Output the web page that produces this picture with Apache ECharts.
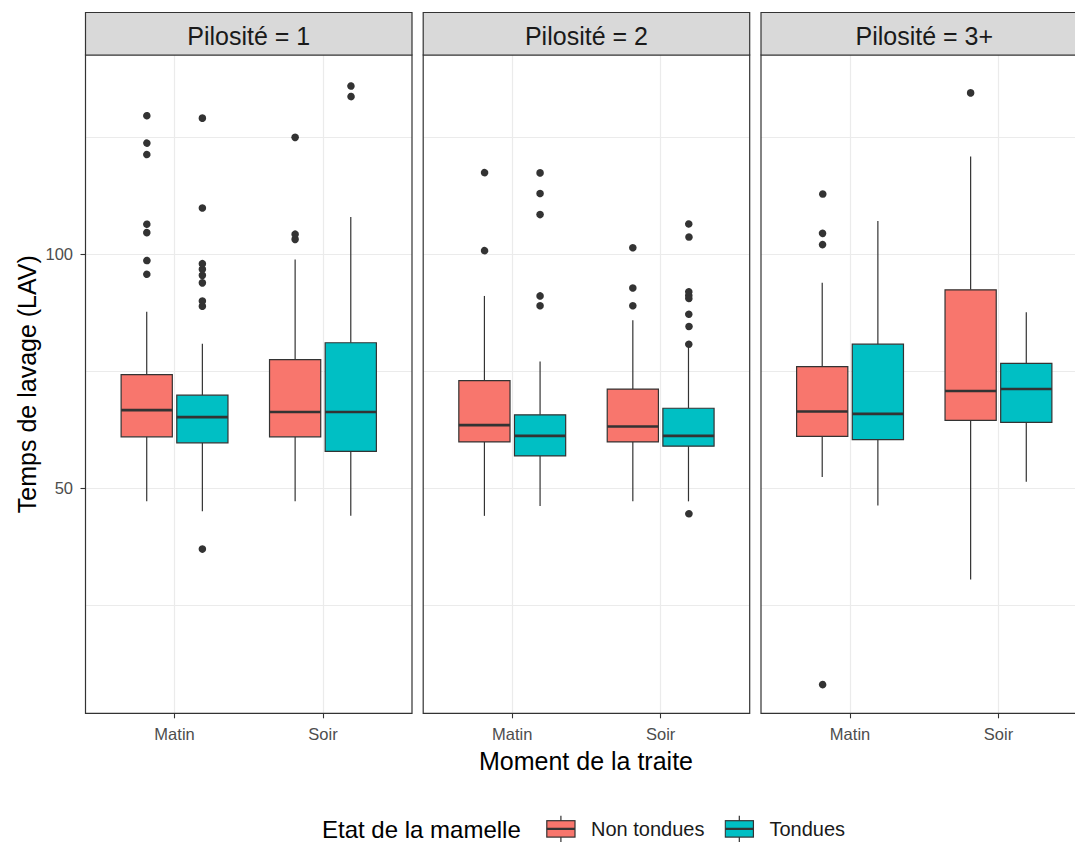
<!DOCTYPE html>
<html><head><meta charset="utf-8">
<script src="https://cdn.jsdelivr.net/npm/echarts@6/dist/echarts.min.js"></script>
<style>html,body{margin:0;padding:0;background:#fff}#c{width:1075px;height:842px}</style>
</head><body><div id="c"></div>
<script>
// ---------- data ----------
const panelTitles = ['Pilosité = 1', 'Pilosité = 2', 'Pilosité = 3+'];
const moments = ['Matin', 'Soir'];
const etats = ['Non tondues', 'Tondues'];
const etatColors = ['#F8766D', '#00BFC4'];
const yLabelTicks = [50, 100];
const yGridTicks = [25, 50, 75, 100, 125];
const yRange = [1.9, 142.6];
const xRange = [0.4, 2.6];
// [min, Q1, median, Q3, max] for [Matin, Soir] in each panel
const statsNonTondues = [
  [[47.2, 61.0, 66.7, 74.3, 87.7], [47.2, 61.0, 66.3, 77.5, 98.9]],
  [[44.1, 59.9, 63.5, 73.0, 91.1], [47.2, 59.9, 63.2, 71.2, 85.9]],
  [[52.4, 61.1, 66.4, 76.0, 93.9], [30.5, 64.5, 70.8, 92.4, 120.9]]
];
const statsTondues = [
  [[45.1, 59.7, 65.2, 69.9, 80.9], [44.1, 57.9, 66.3, 81.1, 108.0]],
  [[46.2, 56.9, 61.2, 65.7, 77.1], [47.2, 59.0, 61.2, 67.1, 80.3]],
  [[46.3, 60.4, 65.9, 80.8, 107.1], [51.4, 64.1, 71.2, 76.7, 87.6]]
];
const outliersNonTondues = [
  [[95.9, 98.9, 104.8, 106.6, 121.5, 124.0, 129.8], [103.2, 104.3, 125.0]],
  [[101.0, 117.7], [89.0, 92.8, 101.4]],
  [[8.4, 102.4, 104.8, 113.3], [134.5]]
];
const outliersTondues = [
  [[37.0, 88.9, 90.0, 93.9, 95.5, 96.8, 98.0, 109.9, 129.1], [134.0, 136.2]],
  [[89.0, 91.1, 108.5, 113.0, 117.4], [44.9, 81.1, 85.0, 87.5, 90.9, 91.5, 92.3, 104.1, 106.8]],
  [[], []]
];

// ---------- layout / style ----------
const FONT = '"Liberation Sans", Arial, Helvetica, sans-serif';
const PANEL_LEFT = [85.5, 423.2, 761];
const PANEL_W = 326.5;
const PANEL_TOP = 55;
const PANEL_H = 658.3;
const STRIP_TOP = 12.5;
const DODGE = 0.1875;
const BOX_W = 0.345;
const INK = '#333333';

const allStats = [statsNonTondues, statsTondues];
const allOutliers = [outliersNonTondues, outliersTondues];

function boxRenderer(g) {
  return function (params, api) {
    const x = api.value(0);
    const unit = api.size([1, 0])[0];
    const cx = api.coord([x, api.value(3)])[0] + (g === 0 ? -1 : 1) * DODGE * unit;
    const half = BOX_W * unit / 2;
    const py = i => api.coord([x, api.value(i)])[1];
    const yMin = py(1), yQ1 = py(2), yMed = py(3), yQ3 = py(4), yMax = py(5);
    const ls = { stroke: INK, lineWidth: 1.2 };
    return {
      type: 'group',
      children: [
        { type: 'line', shape: { x1: cx, y1: yMax, x2: cx, y2: yQ3 }, style: ls },
        { type: 'line', shape: { x1: cx, y1: yQ1, x2: cx, y2: yMin }, style: ls },
        { type: 'rect', shape: { x: cx - half, y: yQ3, width: 2 * half, height: yQ1 - yQ3 },
          style: { fill: etatColors[g], stroke: INK, lineWidth: 1.2 } },
        { type: 'line', shape: { x1: cx - half, y1: yMed, x2: cx + half, y2: yMed },
          style: { stroke: INK, lineWidth: 2.6 } }
      ]
    };
  };
}
function pointRenderer(g) {
  return function (params, api) {
    const x = api.value(0);
    const unit = api.size([1, 0])[0];
    const p = api.coord([x, api.value(1)]);
    const cx = p[0] + (g === 0 ? -1 : 1) * DODGE * unit;
    return { type: 'circle', shape: { cx: cx, cy: p[1], r: 3.8 }, style: { fill: INK } };
  };
}
function legendIcon(color) {
  const svg = '<svg xmlns="http://www.w3.org/2000/svg" width="40" height="33" viewBox="0 0 40 33">' +
    '<line x1="14.9" y1="3.3" x2="14.9" y2="29.7" stroke="#333333" stroke-width="1.2"/>' +
    '<rect x="0.8" y="8.2" width="28.2" height="16.4" fill="' + color + '" stroke="#333333" stroke-width="1.2"/>' +
    '<line x1="0.8" y1="16.4" x2="29" y2="16.4" stroke="#333333" stroke-width="2.4"/>' +
    '</svg>';
  return 'image://data:image/svg+xml;charset=utf-8,' + encodeURIComponent(svg);
}

const grids = [], xAxes = [], yAxes = [], series = [], graphics = [];
panelTitles.forEach((title, i) => {
  grids.push({ left: PANEL_LEFT[i], top: PANEL_TOP, width: PANEL_W, height: PANEL_H,
    show: true, borderColor: INK, borderWidth: 1.2, z: 3,
    containLabel: false, outerBoundsMode: 'none' });
  xAxes.push({
    type: 'value', gridIndex: i, min: xRange[0], max: xRange[1],
    axisLine: { show: false },
    axisTick: { show: true, customValues: [1, 2], length: 5, lineStyle: { color: INK, width: 1.1 } },
    axisLabel: { customValues: [1, 2], formatter: v => moments[Math.round(v) - 1],
      fontSize: 16.5, color: '#4D4D4D', margin: 12, fontFamily: FONT },
    splitLine: { show: true, lineStyle: { color: '#EBEBEB', width: 1.2 } }
  });
  yAxes.push({
    type: 'value', gridIndex: i, min: yRange[0], max: yRange[1], position: 'left',
    axisLine: { show: false },
    axisTick: { show: false, customValues: yGridTicks },
    axisLabel: { show: false },
    splitLine: { show: true, lineStyle: { color: '#EBEBEB', width: 1.2 } }
  });
  [0, 1].forEach(g => {
    series.push({
      type: 'custom', name: etats[g], xAxisIndex: i, yAxisIndex: i,
      renderItem: boxRenderer(g), encode: { x: 0, y: [1, 2, 3, 4, 5] },
      data: moments.map((m, k) => [k + 1].concat(allStats[g][i][k])), z: 2
    });
    const pts = [];
    moments.forEach((m, k) => allOutliers[g][i][k].forEach(v => pts.push([k + 1, v])));
    series.push({
      type: 'custom', name: etats[g] + ' (points)', xAxisIndex: i, yAxisIndex: i,
      renderItem: pointRenderer(g), encode: { x: 0, y: 1 }, data: pts, z: 3
    });
  });
  graphics.push({ type: 'rect', shape: { x: PANEL_LEFT[i], y: STRIP_TOP, width: PANEL_W, height: PANEL_TOP - STRIP_TOP },
    style: { fill: '#D9D9D9', stroke: INK, lineWidth: 1.2 }, z: 5 });
  graphics.push({ type: 'text', x: PANEL_LEFT[i] + PANEL_W / 2, y: 35.5, z: 6,
    style: { text: title, fill: '#1A1A1A', fontSize: 25, fontFamily: FONT, align: 'center', verticalAlign: 'middle' } });
});
// labelled y axis on first panel
yAxes.push({
  type: 'value', gridIndex: 0, min: yRange[0], max: yRange[1], position: 'left',
  axisLine: { show: false },
  axisTick: { show: true, customValues: yLabelTicks, length: 5, lineStyle: { color: INK, width: 1.1 } },
  axisLabel: { customValues: yLabelTicks, fontSize: 16.5, color: '#4D4D4D', margin: 12.5, fontFamily: FONT },
  splitLine: { show: false }
});

graphics.push({ type: 'text', x: 586, y: 760.6, z: 6,
  style: { text: 'Moment de la traite', fill: '#000', fontSize: 25, fontFamily: FONT, align: 'center', verticalAlign: 'middle' } });
graphics.push({ type: 'text', x: 27, y: (PANEL_TOP + PANEL_TOP + PANEL_H) / 2, rotation: Math.PI / 2, z: 6,
  style: { text: 'Temps de lavage (LAV)', fill: '#000', fontSize: 25, fontFamily: FONT, align: 'center', verticalAlign: 'middle' } });
graphics.push({ type: 'text', x: 322, y: 829, z: 6,
  style: { text: 'Etat de la mamelle', fill: '#000', fontSize: 24, fontFamily: FONT, align: 'left', verticalAlign: 'middle' } });

const chart = echarts.init(document.getElementById('c'), null, { renderer: 'svg' });
chart.setOption({
  backgroundColor: '#ffffff',
  animation: false,
  grid: grids,
  xAxis: xAxes,
  yAxis: yAxes,
  legend: {
    data: etats.map((n, g) => ({ name: n, icon: legendIcon(etatColors[g]) })),
    left: 546, top: 812.5, orient: 'horizontal', itemWidth: 40, itemHeight: 33, itemGap: 20,
    selectedMode: false, padding: 0,
    textStyle: { fontSize: 20, color: '#1A1A1A', fontFamily: FONT }
  },
  graphic: graphics,
  series: series
});
</script></body></html>
